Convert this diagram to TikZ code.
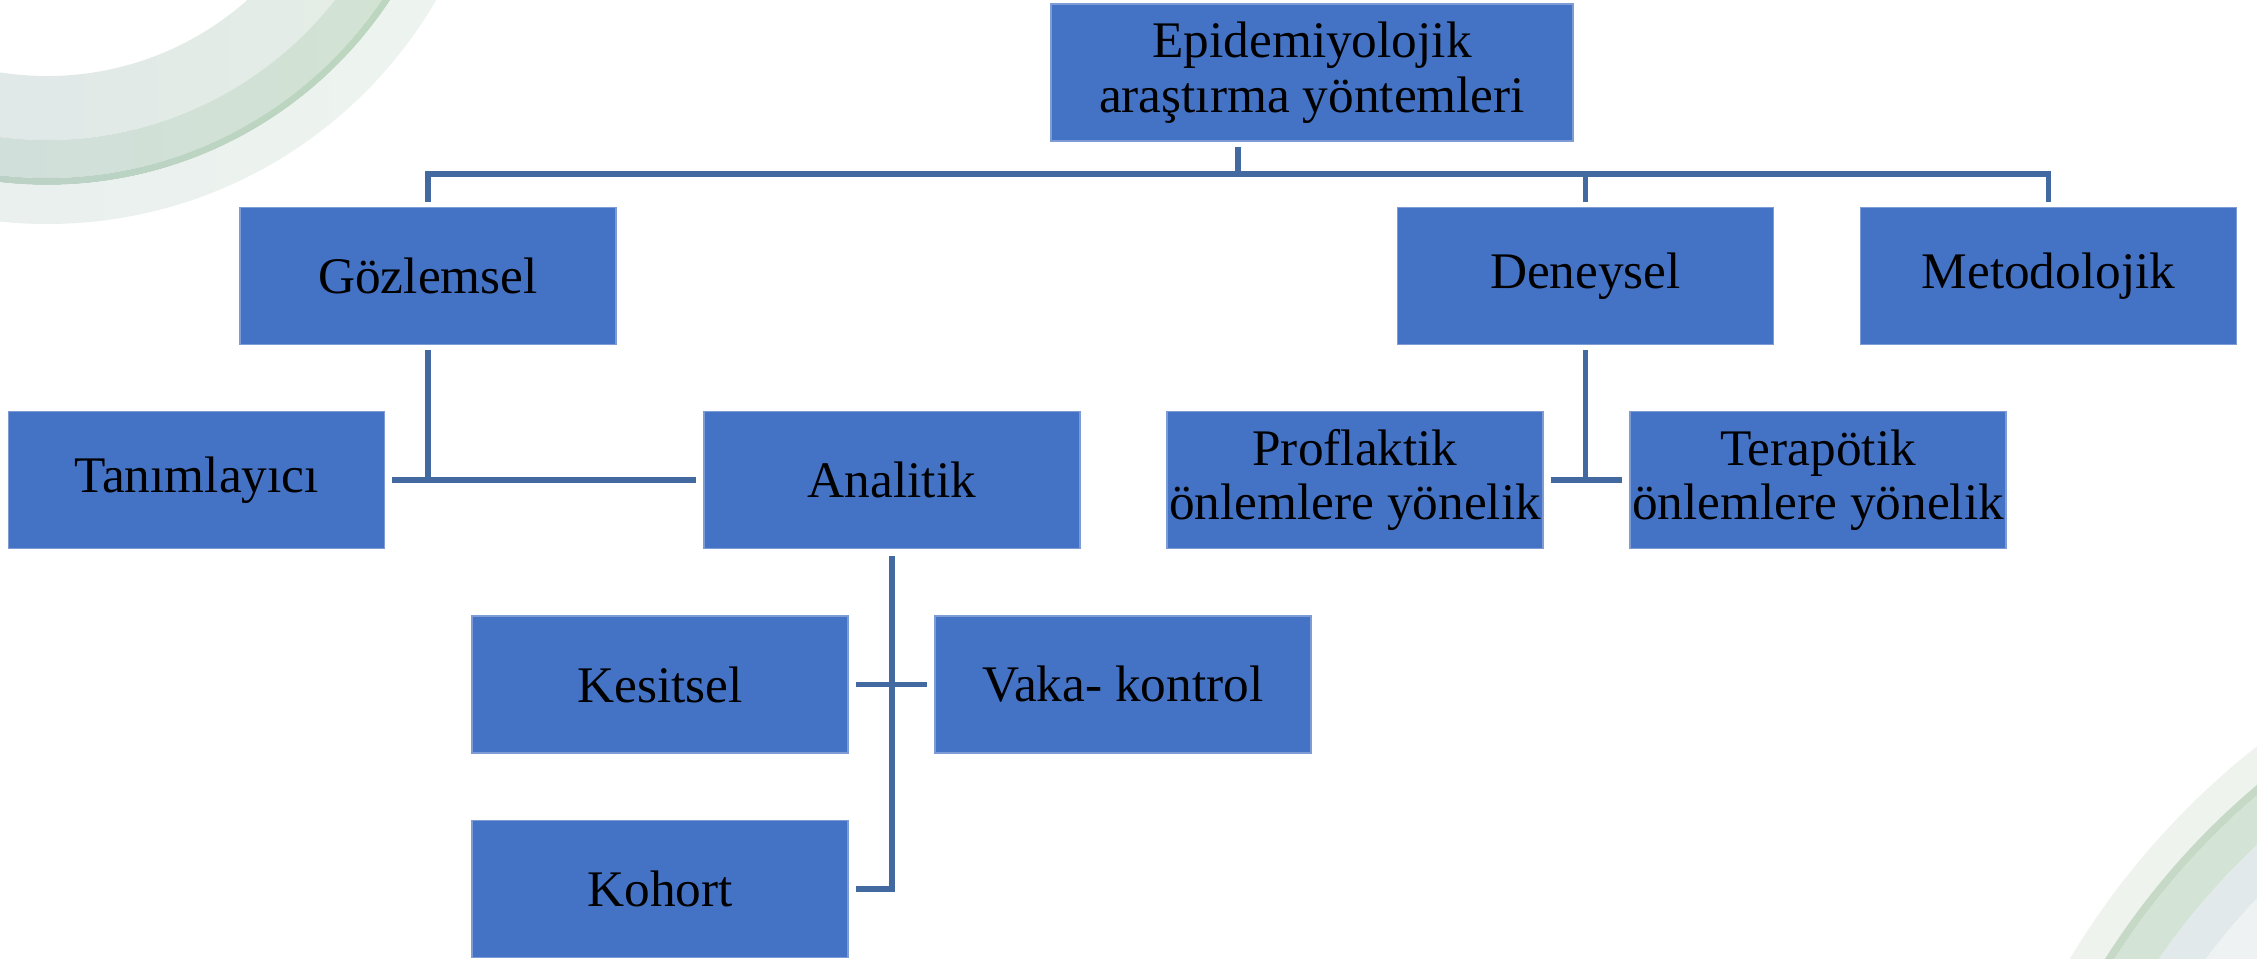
\documentclass[tikz,border=0pt]{standalone}
\usepackage{fontspec}
\setmainfont{Liberation Serif}
\usepackage{xcolor}
\usetikzlibrary{positioning}

\definecolor{boxblue}{RGB}{68,114,196}
\definecolor{boxedge}{RGB}{125,155,212}
\definecolor{linkblue}{RGB}{66,106,160}
% swoosh colours
\definecolor{swaL}{RGB}{220,228,234}
\definecolor{swaR}{RGB}{230,238,230}
\definecolor{swbL}{RGB}{207,220,224}
\definecolor{swbR}{RGB}{210,227,210}
\definecolor{swcL}{RGB}{185,205,203}
\definecolor{swcR}{RGB}{189,215,190}
\definecolor{swdL}{RGB}{230,236,238}
\definecolor{swdR}{RGB}{238,244,238}
\definecolor{sweA}{RGB}{238,243,238}
\definecolor{sweB}{RGB}{198,217,198}
\definecolor{sweT}{RGB}{211,227,211}
\definecolor{sweD}{RGB}{212,225,224}
\definecolor{sweC}{RGB}{226,233,234}
\definecolor{sweE}{RGB}{238,242,243}

\begin{document}
\begin{tikzpicture}[node distance=4.63cm,
    box node/.style={rectangle,fill=boxblue,draw=boxedge,line width=0.4pt,minimum width=3.76cm,minimum height=1.37cm,inner sep=0pt,align=center,font=\fontsize{14.6}{15.5}\selectfont},
    link/.style={draw=linkblue,line width=1.5pt}]
    \useasboundingbox (0,0) rectangle (22.57,-9.58);

    % background swooshes
    \begin{scope}
        \clip (0,0) rectangle (22.57,-9.58);
        \shade[left color=swaL,right color=swaR,even odd rule] (0.47,2.26) circle (3.66) circle (3.02);
        \shade[left color=swbL,right color=swbR,even odd rule] (0.47,2.26) circle (4.04) circle (3.66);
        \shade[left color=swcL,right color=swcR,even odd rule] (0.47,2.26) circle (4.11) circle (4.04);
        \shade[left color=swdL,right color=swdR,even odd rule] (0.47,2.26) circle (4.50) circle (4.11);

        \fill[sweA,even odd rule] (27.40,-13.60) circle (7.81) circle (7.51);
        \fill[sweB,even odd rule] (27.40,-13.60) circle (7.51) circle (7.43);
        \shade[top color=sweT,bottom color=sweD,even odd rule] (27.40,-13.60) circle (7.43) circle (7.06);
        \fill[sweC,even odd rule] (27.40,-13.60) circle (7.06) circle (6.68);
        \fill[sweE,even odd rule] (27.40,-13.60) circle (6.68) circle (6.20);
    \end{scope}

    \node[box node, minimum width=5.22cm] (root) at (13.12,-0.725) {Epidemiyolojik\\araştırma yöntemleri};

    \node[box node] (goz) at (4.28,-2.76) {Gözlemsel};
    \node[box node] (den) [right of=goz, xshift=6.945cm] {Deneysel};
    \node[box node] (met) [right of=den] {Metodolojik};

    \node[box node] (tan) [node distance=2.04cm, below of=goz, xshift=-2.315cm] {Tanımlayıcı};
    \node[box node] (ana) [right of=tan, xshift=2.325cm] {Analitik};
    \node[box node] (pro) [right of=ana] {Proflaktik\\önlemlere yönelik};
    \node[box node] (ter) [right of=pro] {Terapötik\\önlemlere yönelik};

    \node[box node] (kes) [node distance=2.045cm, below of=ana, xshift=-2.32cm] {Kesitsel};
    \node[box node] (vak) [right of=kes] {Vaka- kontrol};
    \node[box node] (koh) [node distance=2.045cm, below of=kes] {Kohort};

    \coordinate (hub) at (12.38,-1.74);

    % top level
    \draw[link, shorten <=0.05cm] (root.south -| hub) -- (hub);
    \draw[link, shorten <=0.05cm, shorten >=0.05cm] (goz.north) |- (hub) -| (met.north);
    \draw[link, shorten >=0.05cm] (den.north |- hub) -- (den.north);

    % Gözlemsel
    \draw[link, shorten <=0.05cm] (goz.south) -- (goz.south |- tan.east);
    \draw[link, shorten <=0.07cm, shorten >=0.07cm] (tan.east) -- (ana.west);

    % Deneysel
    \draw[link, shorten <=0.05cm] (den.south) -- (den.south |- pro.east);
    \draw[link, shorten <=0.07cm, shorten >=0.07cm] (pro.east) -- (ter.west);

    % Analitik
    \draw[link, shorten <=0.07cm, shorten >=0.07cm] (ana.south) |- (koh.east);
    \draw[link, shorten <=0.07cm, shorten >=0.07cm] (kes.east) -- (vak.west);
\end{tikzpicture}
\end{document}
